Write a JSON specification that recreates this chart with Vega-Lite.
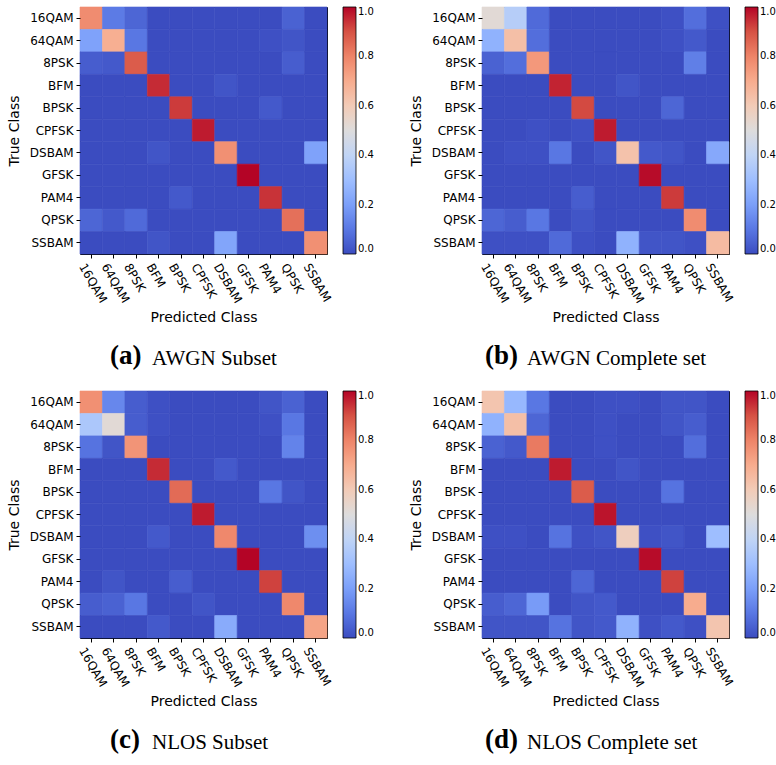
{
"$schema":"https://vega.github.io/schema/vega-lite/v6.json",
"background":"white",
"padding":{"left":6,"top":6,"right":0,"bottom":0},
"config":{
"view":{"stroke":"black","strokeWidth":1},
"axis":{"labelFont":"DejaVu Sans","titleFont":"DejaVu Sans","labelFontSize":12,"titleFontSize":14,"titleFontWeight":"normal","labelColor":"black","titleColor":"black","tickColor":"black","tickSize":4,"domain":false,"grid":false},
"legend":{"gradientLength":247,"gradientThickness":13,"gradientStrokeColor":"black","gradientStrokeWidth":0.8,"labelFont":"DejaVu Sans","labelFontSize":10,"labelColor":"black","offset":16,"padding":0,"labelOffset":5},
"title":{"font":"Liberation Serif","fontSize":27,"fontWeight":"bold","color":"black","subtitleFont":"Liberation Serif","subtitleFontSize":21,"subtitleColor":"black","subtitlePadding":-22,"orient":"bottom","anchor":"start","frame":"group","offset":18}
},
"datasets":{
"a":[
{"actual":"16QAM","pred":"16QAM","v":0.78},{"actual":"16QAM","pred":"64QAM","v":0.11},{"actual":"16QAM","pred":"8PSK","v":0.06},{"actual":"16QAM","pred":"BFM","v":0},{"actual":"16QAM","pred":"BPSK","v":0},{"actual":"16QAM","pred":"CPFSK","v":0},{"actual":"16QAM","pred":"DSBAM","v":0},{"actual":"16QAM","pred":"GFSK","v":0},{"actual":"16QAM","pred":"PAM4","v":0},{"actual":"16QAM","pred":"QPSK","v":0.05},{"actual":"16QAM","pred":"SSBAM","v":0},
{"actual":"64QAM","pred":"16QAM","v":0.21},{"actual":"64QAM","pred":"64QAM","v":0.69},{"actual":"64QAM","pred":"8PSK","v":0.1},{"actual":"64QAM","pred":"BFM","v":0},{"actual":"64QAM","pred":"BPSK","v":0},{"actual":"64QAM","pred":"CPFSK","v":0},{"actual":"64QAM","pred":"DSBAM","v":0},{"actual":"64QAM","pred":"GFSK","v":0},{"actual":"64QAM","pred":"PAM4","v":0.01},{"actual":"64QAM","pred":"QPSK","v":0.02},{"actual":"64QAM","pred":"SSBAM","v":0},
{"actual":"8PSK","pred":"16QAM","v":0.04},{"actual":"8PSK","pred":"64QAM","v":0.03},{"actual":"8PSK","pred":"8PSK","v":0.88},{"actual":"8PSK","pred":"BFM","v":0},{"actual":"8PSK","pred":"BPSK","v":0},{"actual":"8PSK","pred":"CPFSK","v":0},{"actual":"8PSK","pred":"DSBAM","v":0},{"actual":"8PSK","pred":"GFSK","v":0},{"actual":"8PSK","pred":"PAM4","v":0},{"actual":"8PSK","pred":"QPSK","v":0.04},{"actual":"8PSK","pred":"SSBAM","v":0},
{"actual":"BFM","pred":"16QAM","v":0},{"actual":"BFM","pred":"64QAM","v":0},{"actual":"BFM","pred":"8PSK","v":0},{"actual":"BFM","pred":"BFM","v":0.95},{"actual":"BFM","pred":"BPSK","v":0},{"actual":"BFM","pred":"CPFSK","v":0},{"actual":"BFM","pred":"DSBAM","v":0.02},{"actual":"BFM","pred":"GFSK","v":0},{"actual":"BFM","pred":"PAM4","v":0},{"actual":"BFM","pred":"QPSK","v":0},{"actual":"BFM","pred":"SSBAM","v":0},
{"actual":"BPSK","pred":"16QAM","v":0},{"actual":"BPSK","pred":"64QAM","v":0},{"actual":"BPSK","pred":"8PSK","v":0},{"actual":"BPSK","pred":"BFM","v":0},{"actual":"BPSK","pred":"BPSK","v":0.93},{"actual":"BPSK","pred":"CPFSK","v":0},{"actual":"BPSK","pred":"DSBAM","v":0},{"actual":"BPSK","pred":"GFSK","v":0},{"actual":"BPSK","pred":"PAM4","v":0.03},{"actual":"BPSK","pred":"QPSK","v":0},{"actual":"BPSK","pred":"SSBAM","v":0},
{"actual":"CPFSK","pred":"16QAM","v":0},{"actual":"CPFSK","pred":"64QAM","v":0},{"actual":"CPFSK","pred":"8PSK","v":0},{"actual":"CPFSK","pred":"BFM","v":0},{"actual":"CPFSK","pred":"BPSK","v":0},{"actual":"CPFSK","pred":"CPFSK","v":0.97},{"actual":"CPFSK","pred":"DSBAM","v":0},{"actual":"CPFSK","pred":"GFSK","v":0},{"actual":"CPFSK","pred":"PAM4","v":0},{"actual":"CPFSK","pred":"QPSK","v":0},{"actual":"CPFSK","pred":"SSBAM","v":0},
{"actual":"DSBAM","pred":"16QAM","v":0},{"actual":"DSBAM","pred":"64QAM","v":0},{"actual":"DSBAM","pred":"8PSK","v":0},{"actual":"DSBAM","pred":"BFM","v":0.02},{"actual":"DSBAM","pred":"BPSK","v":0},{"actual":"DSBAM","pred":"CPFSK","v":0},{"actual":"DSBAM","pred":"DSBAM","v":0.77},{"actual":"DSBAM","pred":"GFSK","v":0},{"actual":"DSBAM","pred":"PAM4","v":0},{"actual":"DSBAM","pred":"QPSK","v":0},{"actual":"DSBAM","pred":"SSBAM","v":0.21},
{"actual":"GFSK","pred":"16QAM","v":0},{"actual":"GFSK","pred":"64QAM","v":0},{"actual":"GFSK","pred":"8PSK","v":0},{"actual":"GFSK","pred":"BFM","v":0},{"actual":"GFSK","pred":"BPSK","v":0},{"actual":"GFSK","pred":"CPFSK","v":0},{"actual":"GFSK","pred":"DSBAM","v":0},{"actual":"GFSK","pred":"GFSK","v":1.0},{"actual":"GFSK","pred":"PAM4","v":0},{"actual":"GFSK","pred":"QPSK","v":0},{"actual":"GFSK","pred":"SSBAM","v":0},
{"actual":"PAM4","pred":"16QAM","v":0},{"actual":"PAM4","pred":"64QAM","v":0},{"actual":"PAM4","pred":"8PSK","v":0},{"actual":"PAM4","pred":"BFM","v":0},{"actual":"PAM4","pred":"BPSK","v":0.03},{"actual":"PAM4","pred":"CPFSK","v":0},{"actual":"PAM4","pred":"DSBAM","v":0},{"actual":"PAM4","pred":"GFSK","v":0},{"actual":"PAM4","pred":"PAM4","v":0.94},{"actual":"PAM4","pred":"QPSK","v":0},{"actual":"PAM4","pred":"SSBAM","v":0},
{"actual":"QPSK","pred":"16QAM","v":0.06},{"actual":"QPSK","pred":"64QAM","v":0.03},{"actual":"QPSK","pred":"8PSK","v":0.07},{"actual":"QPSK","pred":"BFM","v":0},{"actual":"QPSK","pred":"BPSK","v":0},{"actual":"QPSK","pred":"CPFSK","v":0},{"actual":"QPSK","pred":"DSBAM","v":0},{"actual":"QPSK","pred":"GFSK","v":0},{"actual":"QPSK","pred":"PAM4","v":0},{"actual":"QPSK","pred":"QPSK","v":0.84},{"actual":"QPSK","pred":"SSBAM","v":0},
{"actual":"SSBAM","pred":"16QAM","v":0},{"actual":"SSBAM","pred":"64QAM","v":0},{"actual":"SSBAM","pred":"8PSK","v":0},{"actual":"SSBAM","pred":"BFM","v":0.02},{"actual":"SSBAM","pred":"BPSK","v":0},{"actual":"SSBAM","pred":"CPFSK","v":0},{"actual":"SSBAM","pred":"DSBAM","v":0.22},{"actual":"SSBAM","pred":"GFSK","v":0},{"actual":"SSBAM","pred":"PAM4","v":0},{"actual":"SSBAM","pred":"QPSK","v":0},{"actual":"SSBAM","pred":"SSBAM","v":0.77}
],
"b":[
{"actual":"16QAM","pred":"16QAM","v":0.52},{"actual":"16QAM","pred":"64QAM","v":0.37},{"actual":"16QAM","pred":"8PSK","v":0.07},{"actual":"16QAM","pred":"BFM","v":0},{"actual":"16QAM","pred":"BPSK","v":0},{"actual":"16QAM","pred":"CPFSK","v":0},{"actual":"16QAM","pred":"DSBAM","v":0},{"actual":"16QAM","pred":"GFSK","v":0},{"actual":"16QAM","pred":"PAM4","v":0.01},{"actual":"16QAM","pred":"QPSK","v":0.08},{"actual":"16QAM","pred":"SSBAM","v":0.01},
{"actual":"64QAM","pred":"16QAM","v":0.26},{"actual":"64QAM","pred":"64QAM","v":0.64},{"actual":"64QAM","pred":"8PSK","v":0.08},{"actual":"64QAM","pred":"BFM","v":0},{"actual":"64QAM","pred":"BPSK","v":0},{"actual":"64QAM","pred":"CPFSK","v":0},{"actual":"64QAM","pred":"DSBAM","v":0},{"actual":"64QAM","pred":"GFSK","v":0},{"actual":"64QAM","pred":"PAM4","v":0.01},{"actual":"64QAM","pred":"QPSK","v":0.03},{"actual":"64QAM","pred":"SSBAM","v":0},
{"actual":"8PSK","pred":"16QAM","v":0.05},{"actual":"8PSK","pred":"64QAM","v":0.08},{"actual":"8PSK","pred":"8PSK","v":0.75},{"actual":"8PSK","pred":"BFM","v":0},{"actual":"8PSK","pred":"BPSK","v":0},{"actual":"8PSK","pred":"CPFSK","v":0},{"actual":"8PSK","pred":"DSBAM","v":0},{"actual":"8PSK","pred":"GFSK","v":0},{"actual":"8PSK","pred":"PAM4","v":0},{"actual":"8PSK","pred":"QPSK","v":0.12},{"actual":"8PSK","pred":"SSBAM","v":0},
{"actual":"BFM","pred":"16QAM","v":0},{"actual":"BFM","pred":"64QAM","v":0},{"actual":"BFM","pred":"8PSK","v":0},{"actual":"BFM","pred":"BFM","v":0.96},{"actual":"BFM","pred":"BPSK","v":0},{"actual":"BFM","pred":"CPFSK","v":0},{"actual":"BFM","pred":"DSBAM","v":0.02},{"actual":"BFM","pred":"GFSK","v":0},{"actual":"BFM","pred":"PAM4","v":0},{"actual":"BFM","pred":"QPSK","v":0},{"actual":"BFM","pred":"SSBAM","v":0},
{"actual":"BPSK","pred":"16QAM","v":0},{"actual":"BPSK","pred":"64QAM","v":0},{"actual":"BPSK","pred":"8PSK","v":0},{"actual":"BPSK","pred":"BFM","v":0},{"actual":"BPSK","pred":"BPSK","v":0.91},{"actual":"BPSK","pred":"CPFSK","v":0},{"actual":"BPSK","pred":"DSBAM","v":0},{"actual":"BPSK","pred":"GFSK","v":0},{"actual":"BPSK","pred":"PAM4","v":0.06},{"actual":"BPSK","pred":"QPSK","v":0},{"actual":"BPSK","pred":"SSBAM","v":0},
{"actual":"CPFSK","pred":"16QAM","v":0},{"actual":"CPFSK","pred":"64QAM","v":0},{"actual":"CPFSK","pred":"8PSK","v":0.01},{"actual":"CPFSK","pred":"BFM","v":0},{"actual":"CPFSK","pred":"BPSK","v":0.01},{"actual":"CPFSK","pred":"CPFSK","v":0.97},{"actual":"CPFSK","pred":"DSBAM","v":0},{"actual":"CPFSK","pred":"GFSK","v":0},{"actual":"CPFSK","pred":"PAM4","v":0},{"actual":"CPFSK","pred":"QPSK","v":0},{"actual":"CPFSK","pred":"SSBAM","v":0},
{"actual":"DSBAM","pred":"16QAM","v":0},{"actual":"DSBAM","pred":"64QAM","v":0.01},{"actual":"DSBAM","pred":"8PSK","v":0.01},{"actual":"DSBAM","pred":"BFM","v":0.1},{"actual":"DSBAM","pred":"BPSK","v":0},{"actual":"DSBAM","pred":"CPFSK","v":0.02},{"actual":"DSBAM","pred":"DSBAM","v":0.63},{"actual":"DSBAM","pred":"GFSK","v":0.03},{"actual":"DSBAM","pred":"PAM4","v":0.02},{"actual":"DSBAM","pred":"QPSK","v":0},{"actual":"DSBAM","pred":"SSBAM","v":0.23},
{"actual":"GFSK","pred":"16QAM","v":0},{"actual":"GFSK","pred":"64QAM","v":0},{"actual":"GFSK","pred":"8PSK","v":0},{"actual":"GFSK","pred":"BFM","v":0},{"actual":"GFSK","pred":"BPSK","v":0},{"actual":"GFSK","pred":"CPFSK","v":0},{"actual":"GFSK","pred":"DSBAM","v":0},{"actual":"GFSK","pred":"GFSK","v":0.99},{"actual":"GFSK","pred":"PAM4","v":0},{"actual":"GFSK","pred":"QPSK","v":0},{"actual":"GFSK","pred":"SSBAM","v":0},
{"actual":"PAM4","pred":"16QAM","v":0},{"actual":"PAM4","pred":"64QAM","v":0},{"actual":"PAM4","pred":"8PSK","v":0},{"actual":"PAM4","pred":"BFM","v":0},{"actual":"PAM4","pred":"BPSK","v":0.04},{"actual":"PAM4","pred":"CPFSK","v":0},{"actual":"PAM4","pred":"DSBAM","v":0},{"actual":"PAM4","pred":"GFSK","v":0},{"actual":"PAM4","pred":"PAM4","v":0.93},{"actual":"PAM4","pred":"QPSK","v":0},{"actual":"PAM4","pred":"SSBAM","v":0},
{"actual":"QPSK","pred":"16QAM","v":0.06},{"actual":"QPSK","pred":"64QAM","v":0.04},{"actual":"QPSK","pred":"8PSK","v":0.1},{"actual":"QPSK","pred":"BFM","v":0},{"actual":"QPSK","pred":"BPSK","v":0.02},{"actual":"QPSK","pred":"CPFSK","v":0},{"actual":"QPSK","pred":"DSBAM","v":0},{"actual":"QPSK","pred":"GFSK","v":0},{"actual":"QPSK","pred":"PAM4","v":0},{"actual":"QPSK","pred":"QPSK","v":0.78},{"actual":"QPSK","pred":"SSBAM","v":0},
{"actual":"SSBAM","pred":"16QAM","v":0.01},{"actual":"SSBAM","pred":"64QAM","v":0.01},{"actual":"SSBAM","pred":"8PSK","v":0.01},{"actual":"SSBAM","pred":"BFM","v":0.07},{"actual":"SSBAM","pred":"BPSK","v":0.01},{"actual":"SSBAM","pred":"CPFSK","v":0},{"actual":"SSBAM","pred":"DSBAM","v":0.26},{"actual":"SSBAM","pred":"GFSK","v":0.02},{"actual":"SSBAM","pred":"PAM4","v":0.02},{"actual":"SSBAM","pred":"QPSK","v":0.01},{"actual":"SSBAM","pred":"SSBAM","v":0.65}
],
"c":[
{"actual":"16QAM","pred":"16QAM","v":0.77},{"actual":"16QAM","pred":"64QAM","v":0.14},{"actual":"16QAM","pred":"8PSK","v":0.04},{"actual":"16QAM","pred":"BFM","v":0.01},{"actual":"16QAM","pred":"BPSK","v":0},{"actual":"16QAM","pred":"CPFSK","v":0},{"actual":"16QAM","pred":"DSBAM","v":0},{"actual":"16QAM","pred":"GFSK","v":0},{"actual":"16QAM","pred":"PAM4","v":0.02},{"actual":"16QAM","pred":"QPSK","v":0.05},{"actual":"16QAM","pred":"SSBAM","v":0},
{"actual":"64QAM","pred":"16QAM","v":0.34},{"actual":"64QAM","pred":"64QAM","v":0.52},{"actual":"64QAM","pred":"8PSK","v":0.04},{"actual":"64QAM","pred":"BFM","v":0.01},{"actual":"64QAM","pred":"BPSK","v":0},{"actual":"64QAM","pred":"CPFSK","v":0},{"actual":"64QAM","pred":"DSBAM","v":0},{"actual":"64QAM","pred":"GFSK","v":0},{"actual":"64QAM","pred":"PAM4","v":0.01},{"actual":"64QAM","pred":"QPSK","v":0.1},{"actual":"64QAM","pred":"SSBAM","v":0},
{"actual":"8PSK","pred":"16QAM","v":0.09},{"actual":"8PSK","pred":"64QAM","v":0.02},{"actual":"8PSK","pred":"8PSK","v":0.76},{"actual":"8PSK","pred":"BFM","v":0},{"actual":"8PSK","pred":"BPSK","v":0},{"actual":"8PSK","pred":"CPFSK","v":0},{"actual":"8PSK","pred":"DSBAM","v":0},{"actual":"8PSK","pred":"GFSK","v":0},{"actual":"8PSK","pred":"PAM4","v":0},{"actual":"8PSK","pred":"QPSK","v":0.13},{"actual":"8PSK","pred":"SSBAM","v":0},
{"actual":"BFM","pred":"16QAM","v":0},{"actual":"BFM","pred":"64QAM","v":0},{"actual":"BFM","pred":"8PSK","v":0},{"actual":"BFM","pred":"BFM","v":0.95},{"actual":"BFM","pred":"BPSK","v":0},{"actual":"BFM","pred":"CPFSK","v":0},{"actual":"BFM","pred":"DSBAM","v":0.03},{"actual":"BFM","pred":"GFSK","v":0},{"actual":"BFM","pred":"PAM4","v":0},{"actual":"BFM","pred":"QPSK","v":0},{"actual":"BFM","pred":"SSBAM","v":0},
{"actual":"BPSK","pred":"16QAM","v":0},{"actual":"BPSK","pred":"64QAM","v":0},{"actual":"BPSK","pred":"8PSK","v":0},{"actual":"BPSK","pred":"BFM","v":0},{"actual":"BPSK","pred":"BPSK","v":0.85},{"actual":"BPSK","pred":"CPFSK","v":0},{"actual":"BPSK","pred":"DSBAM","v":0},{"actual":"BPSK","pred":"GFSK","v":0},{"actual":"BPSK","pred":"PAM4","v":0.1},{"actual":"BPSK","pred":"QPSK","v":0.02},{"actual":"BPSK","pred":"SSBAM","v":0},
{"actual":"CPFSK","pred":"16QAM","v":0},{"actual":"CPFSK","pred":"64QAM","v":0},{"actual":"CPFSK","pred":"8PSK","v":0},{"actual":"CPFSK","pred":"BFM","v":0},{"actual":"CPFSK","pred":"BPSK","v":0},{"actual":"CPFSK","pred":"CPFSK","v":0.97},{"actual":"CPFSK","pred":"DSBAM","v":0},{"actual":"CPFSK","pred":"GFSK","v":0},{"actual":"CPFSK","pred":"PAM4","v":0},{"actual":"CPFSK","pred":"QPSK","v":0},{"actual":"CPFSK","pred":"SSBAM","v":0},
{"actual":"DSBAM","pred":"16QAM","v":0},{"actual":"DSBAM","pred":"64QAM","v":0},{"actual":"DSBAM","pred":"8PSK","v":0},{"actual":"DSBAM","pred":"BFM","v":0.03},{"actual":"DSBAM","pred":"BPSK","v":0},{"actual":"DSBAM","pred":"CPFSK","v":0},{"actual":"DSBAM","pred":"DSBAM","v":0.79},{"actual":"DSBAM","pred":"GFSK","v":0},{"actual":"DSBAM","pred":"PAM4","v":0},{"actual":"DSBAM","pred":"QPSK","v":0},{"actual":"DSBAM","pred":"SSBAM","v":0.16},
{"actual":"GFSK","pred":"16QAM","v":0},{"actual":"GFSK","pred":"64QAM","v":0},{"actual":"GFSK","pred":"8PSK","v":0},{"actual":"GFSK","pred":"BFM","v":0},{"actual":"GFSK","pred":"BPSK","v":0},{"actual":"GFSK","pred":"CPFSK","v":0},{"actual":"GFSK","pred":"DSBAM","v":0},{"actual":"GFSK","pred":"GFSK","v":1.0},{"actual":"GFSK","pred":"PAM4","v":0},{"actual":"GFSK","pred":"QPSK","v":0},{"actual":"GFSK","pred":"SSBAM","v":0},
{"actual":"PAM4","pred":"16QAM","v":0},{"actual":"PAM4","pred":"64QAM","v":0.02},{"actual":"PAM4","pred":"8PSK","v":0},{"actual":"PAM4","pred":"BFM","v":0},{"actual":"PAM4","pred":"BPSK","v":0.04},{"actual":"PAM4","pred":"CPFSK","v":0},{"actual":"PAM4","pred":"DSBAM","v":0},{"actual":"PAM4","pred":"GFSK","v":0},{"actual":"PAM4","pred":"PAM4","v":0.92},{"actual":"PAM4","pred":"QPSK","v":0},{"actual":"PAM4","pred":"SSBAM","v":0},
{"actual":"QPSK","pred":"16QAM","v":0.04},{"actual":"QPSK","pred":"64QAM","v":0.05},{"actual":"QPSK","pred":"8PSK","v":0.1},{"actual":"QPSK","pred":"BFM","v":0},{"actual":"QPSK","pred":"BPSK","v":0},{"actual":"QPSK","pred":"CPFSK","v":0.02},{"actual":"QPSK","pred":"DSBAM","v":0},{"actual":"QPSK","pred":"GFSK","v":0},{"actual":"QPSK","pred":"PAM4","v":0},{"actual":"QPSK","pred":"QPSK","v":0.79},{"actual":"QPSK","pred":"SSBAM","v":0},
{"actual":"SSBAM","pred":"16QAM","v":0},{"actual":"SSBAM","pred":"64QAM","v":0},{"actual":"SSBAM","pred":"8PSK","v":0},{"actual":"SSBAM","pred":"BFM","v":0.03},{"actual":"SSBAM","pred":"BPSK","v":0},{"actual":"SSBAM","pred":"CPFSK","v":0},{"actual":"SSBAM","pred":"DSBAM","v":0.24},{"actual":"SSBAM","pred":"GFSK","v":0},{"actual":"SSBAM","pred":"PAM4","v":0},{"actual":"SSBAM","pred":"QPSK","v":0},{"actual":"SSBAM","pred":"SSBAM","v":0.72}
],
"d":[
{"actual":"16QAM","pred":"16QAM","v":0.62},{"actual":"16QAM","pred":"64QAM","v":0.28},{"actual":"16QAM","pred":"8PSK","v":0.1},{"actual":"16QAM","pred":"BFM","v":0},{"actual":"16QAM","pred":"BPSK","v":0},{"actual":"16QAM","pred":"CPFSK","v":0.01},{"actual":"16QAM","pred":"DSBAM","v":0.01},{"actual":"16QAM","pred":"GFSK","v":0},{"actual":"16QAM","pred":"PAM4","v":0.02},{"actual":"16QAM","pred":"QPSK","v":0.02},{"actual":"16QAM","pred":"SSBAM","v":0},
{"actual":"64QAM","pred":"16QAM","v":0.26},{"actual":"64QAM","pred":"64QAM","v":0.64},{"actual":"64QAM","pred":"8PSK","v":0.06},{"actual":"64QAM","pred":"BFM","v":0},{"actual":"64QAM","pred":"BPSK","v":0},{"actual":"64QAM","pred":"CPFSK","v":0.01},{"actual":"64QAM","pred":"DSBAM","v":0},{"actual":"64QAM","pred":"GFSK","v":0},{"actual":"64QAM","pred":"PAM4","v":0.02},{"actual":"64QAM","pred":"QPSK","v":0.04},{"actual":"64QAM","pred":"SSBAM","v":0},
{"actual":"8PSK","pred":"16QAM","v":0.05},{"actual":"8PSK","pred":"64QAM","v":0.03},{"actual":"8PSK","pred":"8PSK","v":0.82},{"actual":"8PSK","pred":"BFM","v":0},{"actual":"8PSK","pred":"BPSK","v":0},{"actual":"8PSK","pred":"CPFSK","v":0.01},{"actual":"8PSK","pred":"DSBAM","v":0},{"actual":"8PSK","pred":"GFSK","v":0},{"actual":"8PSK","pred":"PAM4","v":0},{"actual":"8PSK","pred":"QPSK","v":0.08},{"actual":"8PSK","pred":"SSBAM","v":0},
{"actual":"BFM","pred":"16QAM","v":0},{"actual":"BFM","pred":"64QAM","v":0},{"actual":"BFM","pred":"8PSK","v":0},{"actual":"BFM","pred":"BFM","v":0.97},{"actual":"BFM","pred":"BPSK","v":0},{"actual":"BFM","pred":"CPFSK","v":0},{"actual":"BFM","pred":"DSBAM","v":0.02},{"actual":"BFM","pred":"GFSK","v":0},{"actual":"BFM","pred":"PAM4","v":0},{"actual":"BFM","pred":"QPSK","v":0},{"actual":"BFM","pred":"SSBAM","v":0},
{"actual":"BPSK","pred":"16QAM","v":0},{"actual":"BPSK","pred":"64QAM","v":0},{"actual":"BPSK","pred":"8PSK","v":0},{"actual":"BPSK","pred":"BFM","v":0},{"actual":"BPSK","pred":"BPSK","v":0.88},{"actual":"BPSK","pred":"CPFSK","v":0},{"actual":"BPSK","pred":"DSBAM","v":0},{"actual":"BPSK","pred":"GFSK","v":0},{"actual":"BPSK","pred":"PAM4","v":0.09},{"actual":"BPSK","pred":"QPSK","v":0},{"actual":"BPSK","pred":"SSBAM","v":0},
{"actual":"CPFSK","pred":"16QAM","v":0},{"actual":"CPFSK","pred":"64QAM","v":0},{"actual":"CPFSK","pred":"8PSK","v":0},{"actual":"CPFSK","pred":"BFM","v":0},{"actual":"CPFSK","pred":"BPSK","v":0},{"actual":"CPFSK","pred":"CPFSK","v":0.98},{"actual":"CPFSK","pred":"DSBAM","v":0},{"actual":"CPFSK","pred":"GFSK","v":0},{"actual":"CPFSK","pred":"PAM4","v":0},{"actual":"CPFSK","pred":"QPSK","v":0},{"actual":"CPFSK","pred":"SSBAM","v":0},
{"actual":"DSBAM","pred":"16QAM","v":0.01},{"actual":"DSBAM","pred":"64QAM","v":0.01},{"actual":"DSBAM","pred":"8PSK","v":0},{"actual":"DSBAM","pred":"BFM","v":0.09},{"actual":"DSBAM","pred":"BPSK","v":0.01},{"actual":"DSBAM","pred":"CPFSK","v":0.02},{"actual":"DSBAM","pred":"DSBAM","v":0.58},{"actual":"DSBAM","pred":"GFSK","v":0.01},{"actual":"DSBAM","pred":"PAM4","v":0.02},{"actual":"DSBAM","pred":"QPSK","v":0},{"actual":"DSBAM","pred":"SSBAM","v":0.3},
{"actual":"GFSK","pred":"16QAM","v":0},{"actual":"GFSK","pred":"64QAM","v":0},{"actual":"GFSK","pred":"8PSK","v":0},{"actual":"GFSK","pred":"BFM","v":0},{"actual":"GFSK","pred":"BPSK","v":0},{"actual":"GFSK","pred":"CPFSK","v":0},{"actual":"GFSK","pred":"DSBAM","v":0},{"actual":"GFSK","pred":"GFSK","v":0.99},{"actual":"GFSK","pred":"PAM4","v":0},{"actual":"GFSK","pred":"QPSK","v":0},{"actual":"GFSK","pred":"SSBAM","v":0},
{"actual":"PAM4","pred":"16QAM","v":0},{"actual":"PAM4","pred":"64QAM","v":0},{"actual":"PAM4","pred":"8PSK","v":0},{"actual":"PAM4","pred":"BFM","v":0},{"actual":"PAM4","pred":"BPSK","v":0.06},{"actual":"PAM4","pred":"CPFSK","v":0},{"actual":"PAM4","pred":"DSBAM","v":0},{"actual":"PAM4","pred":"GFSK","v":0},{"actual":"PAM4","pred":"PAM4","v":0.92},{"actual":"PAM4","pred":"QPSK","v":0},{"actual":"PAM4","pred":"SSBAM","v":0},
{"actual":"QPSK","pred":"16QAM","v":0.04},{"actual":"QPSK","pred":"64QAM","v":0.06},{"actual":"QPSK","pred":"8PSK","v":0.19},{"actual":"QPSK","pred":"BFM","v":0},{"actual":"QPSK","pred":"BPSK","v":0.02},{"actual":"QPSK","pred":"CPFSK","v":0.03},{"actual":"QPSK","pred":"DSBAM","v":0},{"actual":"QPSK","pred":"GFSK","v":0},{"actual":"QPSK","pred":"PAM4","v":0},{"actual":"QPSK","pred":"QPSK","v":0.7},{"actual":"QPSK","pred":"SSBAM","v":0},
{"actual":"SSBAM","pred":"16QAM","v":0.02},{"actual":"SSBAM","pred":"64QAM","v":0.02},{"actual":"SSBAM","pred":"8PSK","v":0.02},{"actual":"SSBAM","pred":"BFM","v":0.09},{"actual":"SSBAM","pred":"BPSK","v":0.02},{"actual":"SSBAM","pred":"CPFSK","v":0.03},{"actual":"SSBAM","pred":"DSBAM","v":0.26},{"actual":"SSBAM","pred":"GFSK","v":0.01},{"actual":"SSBAM","pred":"PAM4","v":0.03},{"actual":"SSBAM","pred":"QPSK","v":0.01},{"actual":"SSBAM","pred":"SSBAM","v":0.62}
]
},
"columns":2,
"spacing":{"column":33,"row":20},
"resolve":{"scale":{"color":"independent"}},
"concat":[
{"data":{"name":"a"},"width":247,"height":247,
"title":{"text":"(a)","subtitle":"\u200b\u00a0\u00a0\u00a0\u00a0\u00a0\u00a0\u00a0\u00a0AWGN Subset","dx":30},
"mark":{"type":"rect","strokeWidth":0.6},
"encoding":{
"x":{"field":"pred","type":"nominal","sort":["16QAM","64QAM","8PSK","BFM","BPSK","CPFSK","DSBAM","GFSK","PAM4","QPSK","SSBAM"],"scale":{"paddingInner":0,"paddingOuter":0},"axis":{"title":"Predicted Class","labelAngle":60,"labelAlign":"left","labelBaseline":"middle","labelOffset":-9,"labelPadding":6,"titlePadding":6}},
"y":{"field":"actual","type":"nominal","sort":["16QAM","64QAM","8PSK","BFM","BPSK","CPFSK","DSBAM","GFSK","PAM4","QPSK","SSBAM"],"scale":{"paddingInner":0,"paddingOuter":0},"axis":{"title":"True Class","labelPadding":3,"titlePadding":8}},
"color":{"field":"v","type":"quantitative","scale":{"domain":[0,0.1,0.2,0.3,0.4,0.5,0.6,0.7,0.8,0.9,1],"range":["#3b4cc0","#5977e3","#7b9ff9","#9ebeff","#c0d4f5","#dddcdc","#f2cbb7","#f7ac8e","#ee8468","#d65244","#b40426"],"interpolate":"rgb"},"legend":{"title":null,"values":[0,0.2,0.4,0.6,0.8,1],"format":".1f"}},
"stroke":{"field":"v","type":"quantitative","scale":{"domain":[0,0.1,0.2,0.3,0.4,0.5,0.6,0.7,0.8,0.9,1],"range":["#3b4cc0","#5977e3","#7b9ff9","#9ebeff","#c0d4f5","#dddcdc","#f2cbb7","#f7ac8e","#ee8468","#d65244","#b40426"],"interpolate":"rgb"},"legend":null}
}},
{"data":{"name":"b"},"width":247,"height":247,
"title":{"text":"(b)","subtitle":"\u200b\u00a0\u00a0\u00a0\u00a0\u00a0\u00a0\u00a0\u00a0AWGN Complete set","dx":3},
"mark":{"type":"rect","strokeWidth":0.6},
"encoding":{
"x":{"field":"pred","type":"nominal","sort":["16QAM","64QAM","8PSK","BFM","BPSK","CPFSK","DSBAM","GFSK","PAM4","QPSK","SSBAM"],"scale":{"paddingInner":0,"paddingOuter":0},"axis":{"title":"Predicted Class","labelAngle":60,"labelAlign":"left","labelBaseline":"middle","labelOffset":-9,"labelPadding":6,"titlePadding":6}},
"y":{"field":"actual","type":"nominal","sort":["16QAM","64QAM","8PSK","BFM","BPSK","CPFSK","DSBAM","GFSK","PAM4","QPSK","SSBAM"],"scale":{"paddingInner":0,"paddingOuter":0},"axis":{"title":"True Class","labelPadding":3,"titlePadding":8}},
"color":{"field":"v","type":"quantitative","scale":{"domain":[0,0.1,0.2,0.3,0.4,0.5,0.6,0.7,0.8,0.9,1],"range":["#3b4cc0","#5977e3","#7b9ff9","#9ebeff","#c0d4f5","#dddcdc","#f2cbb7","#f7ac8e","#ee8468","#d65244","#b40426"],"interpolate":"rgb"},"legend":{"title":null,"values":[0,0.2,0.4,0.6,0.8,1],"format":".1f"}},
"stroke":{"field":"v","type":"quantitative","scale":{"domain":[0,0.1,0.2,0.3,0.4,0.5,0.6,0.7,0.8,0.9,1],"range":["#3b4cc0","#5977e3","#7b9ff9","#9ebeff","#c0d4f5","#dddcdc","#f2cbb7","#f7ac8e","#ee8468","#d65244","#b40426"],"interpolate":"rgb"},"legend":null}
}},
{"data":{"name":"c"},"width":247,"height":247,
"title":{"text":"(c)","subtitle":"\u200b\u00a0\u00a0\u00a0\u00a0\u00a0\u00a0\u00a0\u00a0NLOS Subset","dx":30},
"mark":{"type":"rect","strokeWidth":0.6},
"encoding":{
"x":{"field":"pred","type":"nominal","sort":["16QAM","64QAM","8PSK","BFM","BPSK","CPFSK","DSBAM","GFSK","PAM4","QPSK","SSBAM"],"scale":{"paddingInner":0,"paddingOuter":0},"axis":{"title":"Predicted Class","labelAngle":60,"labelAlign":"left","labelBaseline":"middle","labelOffset":-9,"labelPadding":6,"titlePadding":6}},
"y":{"field":"actual","type":"nominal","sort":["16QAM","64QAM","8PSK","BFM","BPSK","CPFSK","DSBAM","GFSK","PAM4","QPSK","SSBAM"],"scale":{"paddingInner":0,"paddingOuter":0},"axis":{"title":"True Class","labelPadding":3,"titlePadding":8}},
"color":{"field":"v","type":"quantitative","scale":{"domain":[0,0.1,0.2,0.3,0.4,0.5,0.6,0.7,0.8,0.9,1],"range":["#3b4cc0","#5977e3","#7b9ff9","#9ebeff","#c0d4f5","#dddcdc","#f2cbb7","#f7ac8e","#ee8468","#d65244","#b40426"],"interpolate":"rgb"},"legend":{"title":null,"values":[0,0.2,0.4,0.6,0.8,1],"format":".1f"}},
"stroke":{"field":"v","type":"quantitative","scale":{"domain":[0,0.1,0.2,0.3,0.4,0.5,0.6,0.7,0.8,0.9,1],"range":["#3b4cc0","#5977e3","#7b9ff9","#9ebeff","#c0d4f5","#dddcdc","#f2cbb7","#f7ac8e","#ee8468","#d65244","#b40426"],"interpolate":"rgb"},"legend":null}
}},
{"data":{"name":"d"},"width":247,"height":247,
"title":{"text":"(d)","subtitle":"\u200b\u00a0\u00a0\u00a0\u00a0\u00a0\u00a0\u00a0\u00a0NLOS Complete set","dx":3},
"mark":{"type":"rect","strokeWidth":0.6},
"encoding":{
"x":{"field":"pred","type":"nominal","sort":["16QAM","64QAM","8PSK","BFM","BPSK","CPFSK","DSBAM","GFSK","PAM4","QPSK","SSBAM"],"scale":{"paddingInner":0,"paddingOuter":0},"axis":{"title":"Predicted Class","labelAngle":60,"labelAlign":"left","labelBaseline":"middle","labelOffset":-9,"labelPadding":6,"titlePadding":6}},
"y":{"field":"actual","type":"nominal","sort":["16QAM","64QAM","8PSK","BFM","BPSK","CPFSK","DSBAM","GFSK","PAM4","QPSK","SSBAM"],"scale":{"paddingInner":0,"paddingOuter":0},"axis":{"title":"True Class","labelPadding":3,"titlePadding":8}},
"color":{"field":"v","type":"quantitative","scale":{"domain":[0,0.1,0.2,0.3,0.4,0.5,0.6,0.7,0.8,0.9,1],"range":["#3b4cc0","#5977e3","#7b9ff9","#9ebeff","#c0d4f5","#dddcdc","#f2cbb7","#f7ac8e","#ee8468","#d65244","#b40426"],"interpolate":"rgb"},"legend":{"title":null,"values":[0,0.2,0.4,0.6,0.8,1],"format":".1f"}},
"stroke":{"field":"v","type":"quantitative","scale":{"domain":[0,0.1,0.2,0.3,0.4,0.5,0.6,0.7,0.8,0.9,1],"range":["#3b4cc0","#5977e3","#7b9ff9","#9ebeff","#c0d4f5","#dddcdc","#f2cbb7","#f7ac8e","#ee8468","#d65244","#b40426"],"interpolate":"rgb"},"legend":null}
}}
]
}
